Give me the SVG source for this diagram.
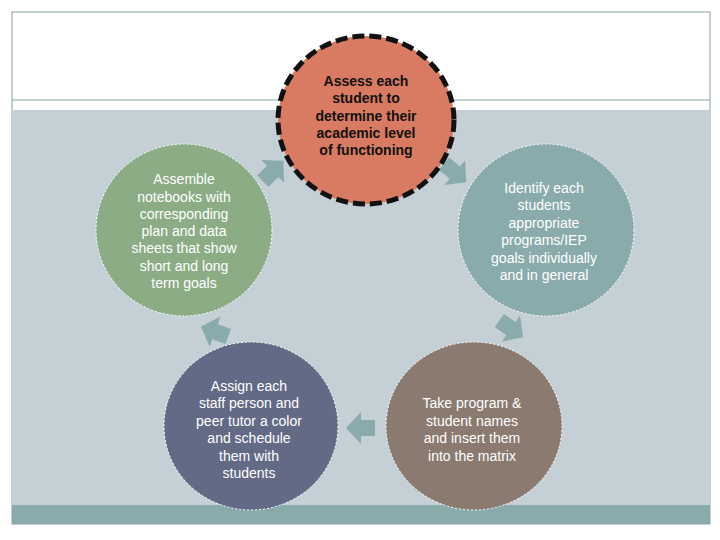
<svg xmlns="http://www.w3.org/2000/svg" width="720" height="540" viewBox="0 0 720 540">
<style>
.t{font-family:"Liberation Sans",Arial,sans-serif;font-size:14px;fill:#fff;text-anchor:middle}
.b{font-weight:bold;fill:#111}
.arr{fill:#8aabab}
</style>
<defs><polygon id="ar" points="-13,-8 1,-8 1,-16 16,0 1,16 1,8 -13,8"/></defs>
<rect x="12" y="12" width="698" height="512" fill="#fff" stroke="#8aa0a8"/>
<rect x="12" y="110" width="698" height="395" fill="#c5d0d6"/>
<line x1="12" y1="100" x2="710" y2="100" stroke="#8aa0a8"/>
<rect x="12" y="505" width="698" height="19" fill="#8aabab"/>
<g id="connectors">
<use href="#ar" class="arr" transform="translate(272,172) rotate(-45)"/>
<use href="#ar" class="arr" transform="translate(454,172) rotate(40)"/>
<use href="#ar" class="arr" transform="translate(510,328) rotate(35)"/>
<use href="#ar" class="arr" transform="translate(362,428) rotate(180)"/>
<use href="#ar" class="arr" transform="translate(216,332) rotate(-160)"/>
</g>
<g id="n1"><ellipse cx="366" cy="120" rx="88" ry="84" fill="#d97b62" stroke="#111" stroke-width="5" stroke-dasharray="12,5"/>
<text class="t b" x="366"><tspan x="366" y="86">Assess each</tspan><tspan x="366" y="103">student to</tspan><tspan x="366" y="121">determine their</tspan><tspan x="366" y="138">academic level</tspan><tspan x="366" y="155">of functioning</tspan></text></g>
<g id="n2"><ellipse cx="546" cy="230" rx="88" ry="86" fill="#8aabab" stroke="#fff" stroke-dasharray="2,2"/>
<text class="t"><tspan x="544" y="193">Identify each</tspan><tspan x="544" y="210">students</tspan><tspan x="544" y="228">appropriate</tspan><tspan x="544" y="245">programs/IEP</tspan><tspan x="544" y="263">goals individually</tspan><tspan x="544" y="280">and in general</tspan></text></g>
<g id="n3"><ellipse cx="474" cy="426" rx="88" ry="84" fill="#8a7a70" stroke="#fff" stroke-dasharray="2,2"/>
<text class="t"><tspan x="472" y="408">Take program &amp;</tspan><tspan x="472" y="426">student names</tspan><tspan x="472" y="443">and insert them</tspan><tspan x="472" y="461">into the matrix</tspan></text></g>
<g id="n4"><ellipse cx="251" cy="426" rx="87" ry="84" fill="#626a86" stroke="#fff" stroke-dasharray="2,2"/>
<text class="t"><tspan x="249" y="391">Assign each</tspan><tspan x="249" y="408">staff person and</tspan><tspan x="249" y="426">peer tutor a color</tspan><tspan x="249" y="443">and schedule</tspan><tspan x="249" y="461">them with</tspan><tspan x="249" y="478">students</tspan></text></g>
<g id="n5"><ellipse cx="184" cy="230" rx="88" ry="86" fill="#8cac86" stroke="#fff" stroke-dasharray="2,2"/>
<text class="t"><tspan x="184" y="184">Assemble</tspan><tspan x="184" y="202">notebooks with</tspan><tspan x="184" y="219">corresponding</tspan><tspan x="184" y="236">plan and data</tspan><tspan x="184" y="253">sheets that show</tspan><tspan x="184" y="271">short and long</tspan><tspan x="184" y="288">term goals</tspan></text></g>
</svg>
